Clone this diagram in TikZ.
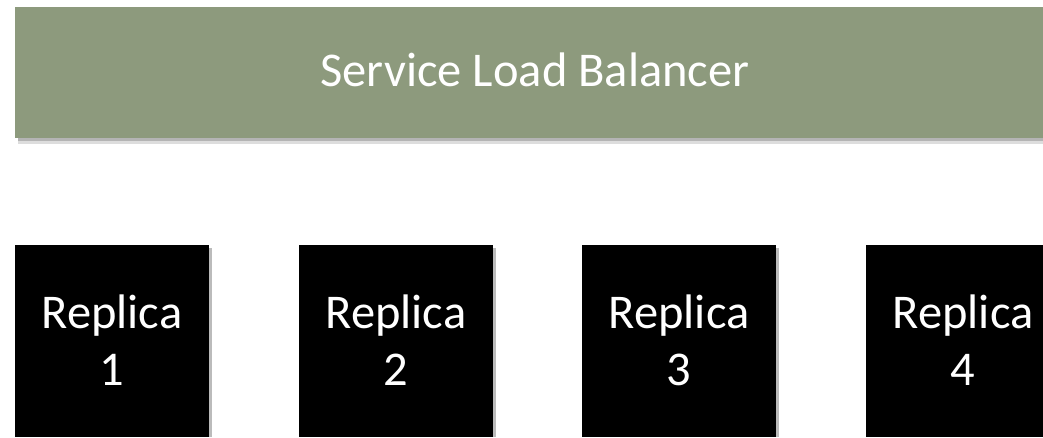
\documentclass[tikz,border=0pt]{standalone}
\usepackage{fontspec}
\setmainfont{Carlito}
\definecolor{lbgreen}{RGB}{141,154,125}
\definecolor{shadowgrey}{RGB}{120,120,120}
\tikzset{
  banner/.style={fill=lbgreen, draw=none, minimum width=1040pt, minimum height=131pt,
    inner sep=0pt, anchor=north west},
  replicabox/.style={fill=black, draw=none, minimum width=194pt, minimum height=192pt,
    inner sep=0pt, anchor=north west},
  whitetext/.style={text=white, inner sep=0pt, anchor=base, font=\fontsize{48.5}{58}\selectfont}
}
\begin{document}
\begin{tikzpicture}[x=1pt,y=1pt]
  % canvas
  \fill[white] (0,0) rectangle (1043,437);
  \useasboundingbox (0,0) rectangle (1043,437);
  % banner shadow
  \fill[shadowgrey, opacity=0.55] (18,296) rectangle (1043,301);
  \fill[shadowgrey, opacity=0.25] (18,293) rectangle (1043,296);
  % load balancer banner
  \node[banner] (lb) at (15,430) {};
  \node[whitetext] (lbtext) at (535,350) {Service Load Balancer};
  % replica boxes with a thin shadow on the right
  \foreach \i/\x in {1/15, 2/299, 3/582, 4/866} {
    \fill[shadowgrey, opacity=0.5] (\x+194,0) rectangle (\x+197,189);
    \node[replicabox] (r\i) at (\x,192) {};
    \node[whitetext] (r\i a) at (\x+97,109) {Replica};
    \node[whitetext] (r\i b) at (\x+97,52) {\i};
  }
\end{tikzpicture}
\end{document}
